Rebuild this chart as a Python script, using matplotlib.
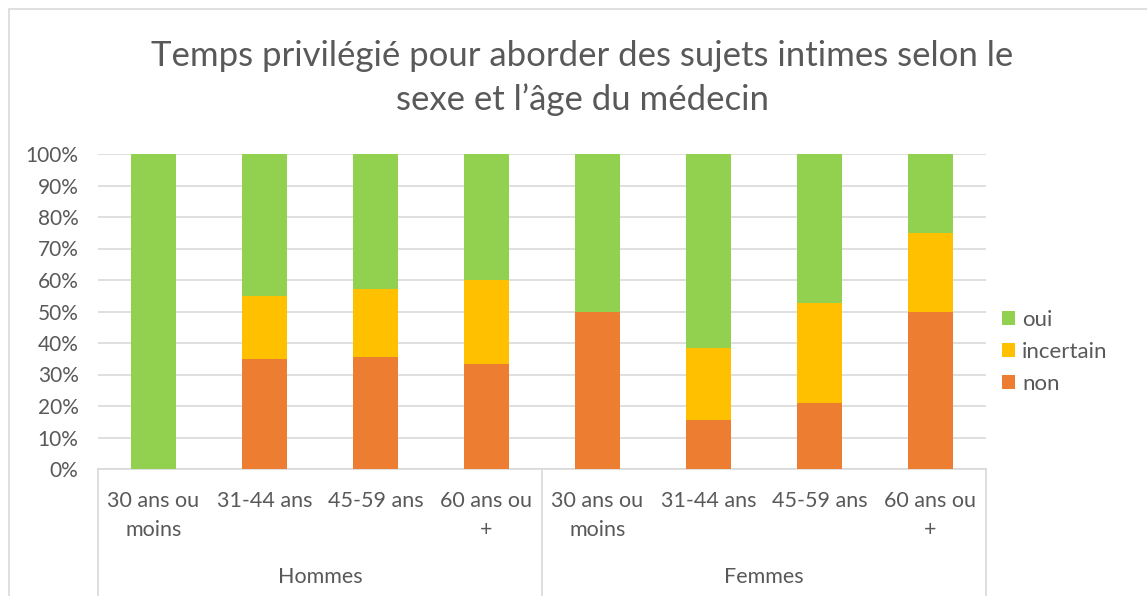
import matplotlib.pyplot as plt
from matplotlib.patches import Rectangle
from matplotlib.transforms import blended_transform_factory

# Data (in %)
groups = ['Hommes', 'Femmes']
ages = ['30 ans ou\nmoins', '31-44 ans', '45-59 ans', '60 ans ou\n+']
non = [0, 35.0, 35.7, 33.3, 50.0, 15.4, 21.1, 50.0]
incertain = [0, 20.0, 21.4, 26.7, 0, 23.1, 31.6, 25.0]
oui = [100.0, 45.0, 42.9, 40.0, 50.0, 61.5, 47.4, 25.0]

c_non = '#ED7D31'
c_inc = '#FFC000'
c_oui = '#92D050'
txt = '#595959'
grid = '#D9D9D9'

plt.rcParams['font.family'] = ['Lato', 'DejaVu Sans']

W, H = 1147, 596
fig = plt.figure(figsize=(W / 100, H / 100), dpi=100)
ax = fig.add_axes([98 / W, (H - 469) / H, 888 / W, 315 / H])

x = list(range(len(non)))
bottom2 = [a + b for a, b in zip(non, incertain)]
ax.bar(x, non, width=0.4, color=c_non, label='non', zorder=3)
ax.bar(x, incertain, width=0.4, bottom=non, color=c_inc, label='incertain', zorder=3)
ax.bar(x, oui, width=0.4, bottom=bottom2, color=c_oui, label='oui', zorder=3)

ax.set_xlim(-0.5, len(x) - 0.5)
ax.set_ylim(0, 100)
ax.set_yticks(range(0, 101, 10))
ax.set_yticklabels([f'{v}%' for v in range(0, 101, 10)], color=txt, fontsize=15)
ax.yaxis.grid(True, color=grid, linewidth=1.2, zorder=0)
ax.set_axisbelow(True)
for s in ['top', 'right', 'left']:
    ax.spines[s].set_visible(False)
ax.spines['bottom'].set_color(grid)
ax.spines['bottom'].set_linewidth(1.2)
ax.tick_params(axis='both', length=0)
ax.tick_params(axis='y', pad=14)

ax.set_xticks(x)
ax.set_xticklabels(ages * len(groups), color=txt, fontsize=15.5, linespacing=1.55)
ax.tick_params(axis='x', pad=16)

# group separators and labels
tr = blended_transform_factory(ax.transData, ax.transAxes)
n = len(ages)
for i in range(len(groups) + 1):
    xs = i * n - 0.5
    ax.plot([xs, xs], [0, -127 / 315], transform=tr, color=grid, lw=1.2, clip_on=False)
for i, g in enumerate(groups):
    ax.text(i * n + (n - 1) / 2, -108 / 315, g, transform=tr, ha='center', va='center',
            color=txt, fontsize=15.5)

handles, labels = ax.get_legend_handles_labels()
leg = fig.legend(handles[::-1], labels[::-1], loc='center left', bbox_to_anchor=(993 / W, (H - 352) / H),
                 frameon=False, fontsize=16, handlelength=0.6, handleheight=0.6,
                 handletextpad=0.3, labelspacing=0.55, labelcolor=txt, borderaxespad=0)

fig.text(582 / W, (H - 78) / H, 'Temps privilégié pour aborder des sujets intimes selon le\nsexe et l’âge du médecin',
         ha='center', va='center', fontsize=25, color=txt, linespacing=1.45)

fig.patches.append(Rectangle((9 / W, -0.1), 1.2, 1 - 9 / H + 0.1, transform=fig.transFigure,
                             fill=False, edgecolor=grid, lw=1.2))

fig.savefig('out.png', dpi=100)
